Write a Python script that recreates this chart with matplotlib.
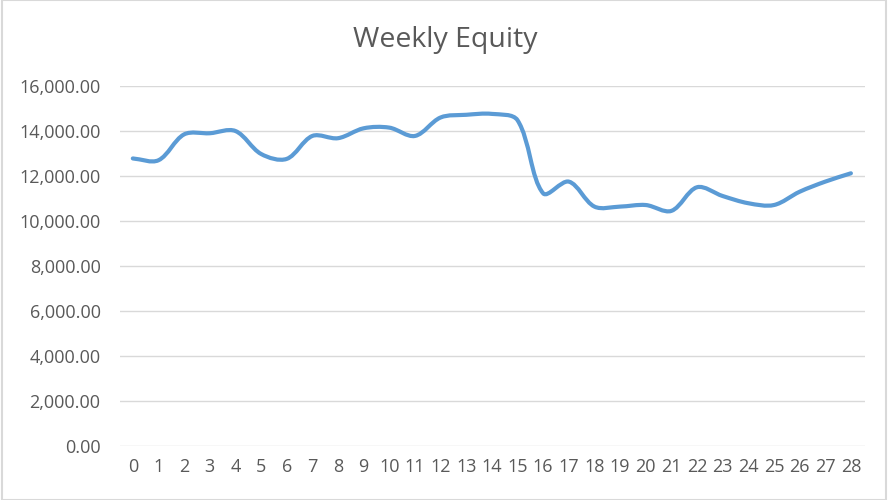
import matplotlib
matplotlib.use("Agg")
import matplotlib.pyplot as plt
from matplotlib.path import Path
from matplotlib.patches import PathPatch, Rectangle
from matplotlib.ticker import FuncFormatter, MultipleLocator

# data
weeks = list(range(29))
equity = [12780, 12700, 13850, 13900, 14000, 12980, 12760, 13780, 13680, 14120,
          14150, 13780, 14600, 14720, 14760, 14480, 11230, 11750, 10640, 10640,
          10710, 10450, 11500, 11110, 10790, 10710, 11300, 11750, 12120]
title = "Weekly Equity"

LINE_COLOR = "#5b9bd5"
TEXT_COLOR = "#595959"
GRID_COLOR = "#d9d9d9"

plt.rcParams['font.family'] = ['Open Sans', 'DejaVu Sans']

W, H = 890, 500
AX_BOX = [120, 54, 745, 360]  # left, bottom, width, height in pixels
XLIM = (-0.5, 28.55)
YLIM = (0, 16000)

fig = plt.figure(figsize=(W / 100, H / 100), dpi=100)
ax = fig.add_axes([AX_BOX[0] / W, AX_BOX[1] / H, AX_BOX[2] / W, AX_BOX[3] / H])


# smoothed line like a spreadsheet: bezier control arms sized by the
# screen length of the neighbouring segments (no big overshoot on short ones)
def smooth_path(xs, ys, k=1 / 3):
    sx = AX_BOX[2] / (XLIM[1] - XLIM[0])
    sy = AX_BOX[3] / (YLIM[1] - YLIM[0])
    pts = [(x * sx, y * sy) for x, y in zip(xs, ys)]
    n = len(pts)

    def dist(a, b):
        return ((a[0] - b[0]) ** 2 + (a[1] - b[1]) ** 2) ** 0.5

    fwd, back = [], []
    for i in range(n):
        p = pts[i]
        a = pts[max(i - 1, 0)]
        b = pts[min(i + 1, n - 1)]
        tx, ty = b[0] - a[0], b[1] - a[1]
        da, db = dist(p, a), dist(p, b)
        tot = da + db if da + db > 0 else 1
        fwd.append((p[0] + tx * db / tot * k, p[1] + ty * db / tot * k))
        back.append((p[0] - tx * da / tot * k, p[1] - ty * da / tot * k))

    verts = [pts[0]]
    codes = [Path.MOVETO]
    for i in range(n - 1):
        verts += [fwd[i], back[i + 1], pts[i + 1]]
        codes += [Path.CURVE4] * 3
    verts = [(vx / sx, vy / sy) for vx, vy in verts]
    return Path(verts, codes)


patch = PathPatch(smooth_path(weeks, equity), facecolor="none", edgecolor=LINE_COLOR,
                  lw=3.0, capstyle="round", joinstyle="round", zorder=3)
ax.add_patch(patch)

ax.set_xlim(*XLIM)
ax.set_ylim(*YLIM)
ax.set_xticks(weeks)
ax.set_xticklabels([str(w) for w in weeks])
ax.yaxis.set_major_locator(MultipleLocator(2000))
ax.yaxis.set_major_formatter(FuncFormatter(lambda v, p: f"{v:,.2f}"))

ax.grid(axis="y", color=GRID_COLOR, lw=1.0)
ax.set_axisbelow(True)
for s in ["top", "right", "left", "bottom"]:
    ax.spines[s].set_visible(False)
ax.tick_params(length=0, labelsize=13, labelcolor=TEXT_COLOR)
ax.tick_params(axis="y", pad=14)
ax.tick_params(axis="x", pad=9)

fig.text(0.5, 0.92, title, ha="center", va="center", fontsize=20.5, color=TEXT_COLOR)

# thin chart frame
fig.patches.append(Rectangle((0.002, 0), 0.994, 1, transform=fig.transFigure,
                             fill=False, edgecolor="#d9d9d9", lw=1.5))

fig.savefig("out.png", dpi=100, facecolor="white")
